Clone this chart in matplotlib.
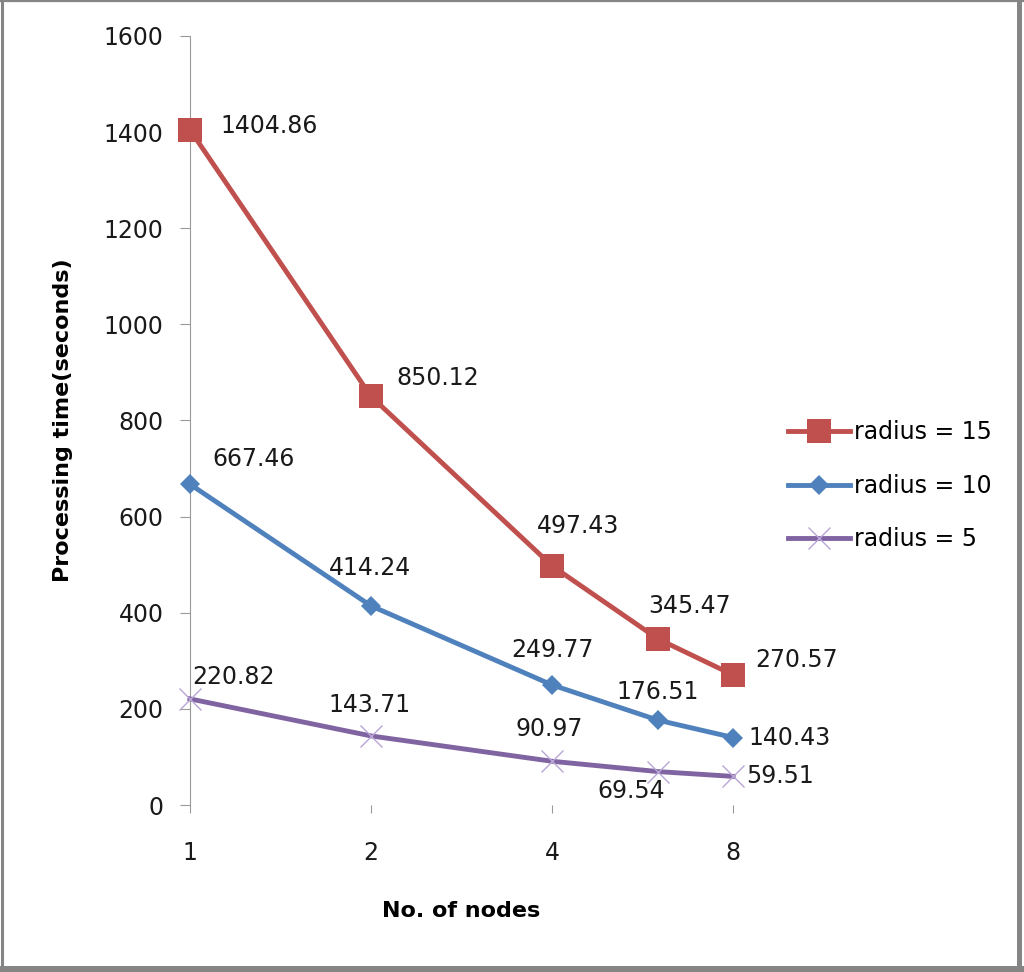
import numpy as np
import matplotlib
matplotlib.use("Agg")
import matplotlib.pyplot as plt
from matplotlib.lines import Line2D

# data
nodes = [1, 2, 4, 6, 8]
r15 = [1404.86, 850.12, 497.43, 345.47, 270.57]
r10 = [667.46, 414.24, 249.77, 176.51, 140.43]
r5 = [220.82, 143.71, 90.97, 69.54, 59.51]
xtick_vals = [1, 2, 4, 8]
yticks = [0, 200, 400, 600, 800, 1000, 1200, 1400, 1600]

# label offsets (points) per series
off15 = [(22, 3, 'left'), (18, 13, 'left'), (19, 29, 'center'), (23, 24, 'center'), (16, 11, 'left')]
off10 = [(16, 18, 'left'), (-1, 27, 'center'), (0, 25, 'center'), (0, 20, 'center'), (11, 0, 'left')]
off5 = [(2, 16, 'left'), (-1, 22, 'center'), (-2, 23, 'center'), (-19, -14, 'center'), (9, 0, 'left')]

plt.rcParams['font.family'] = ['DejaVu Sans']

fig = plt.figure(figsize=(10.24, 9.72), dpi=100)
ax = fig.add_axes([0.1855, 0.1718, 0.716 - 0.1855, 0.963 - 0.1718])

series = [
    (r15, 'radius = 15', '#C0504D', dict(marker='s', markersize=17, markeredgewidth=0), off15),
    (r10, 'radius = 10', '#4F81BD', dict(marker='D', markersize=10, markeredgewidth=0), off10),
    (r5, 'radius = 5', '#8064A2', dict(marker='x', markersize=16, markeredgewidth=1,
                                        markeredgecolor='#B9A6D6'), off5),
]

for vals, name, col, mk, offs in series:
    ax.plot(nodes, vals, color=col, lw=3.5, label=name, clip_on=False, zorder=3, **mk)
    for x, v, (dx, dy, ha) in zip(nodes, vals, offs):
        ax.annotate(f"{v:.2f}", (x, v), xytext=(dx, dy), textcoords='offset points',
                    ha=ha, va='center', fontsize=17, color='#1a1a1a', zorder=4)

ax.set_xscale('log', base=2)
ax.set_xlim(1, 8)
ax.set_ylim(0, 1600)
ax.set_xticks(xtick_vals)
ax.set_xticklabels([str(v) for v in xtick_vals])
ax.minorticks_off()
ax.set_yticks(yticks)

for s in ['top', 'right', 'bottom']:
    ax.spines[s].set_visible(False)
ax.spines['left'].set_color('#999999')
ax.tick_params(axis='y', colors='#999999', labelcolor='#1a1a1a', labelsize=17, length=7, pad=12)
ax.tick_params(axis='x', colors='#999999', labelcolor='#1a1a1a', labelsize=17, length=6, pad=20)

ax.set_ylabel('Processing time(seconds)', fontsize=16, fontweight='bold', labelpad=22)
ax.set_xlabel('No. of nodes', fontsize=16, fontweight='bold', labelpad=26)

ax.legend(loc='center left', bbox_to_anchor=(1.062, 0.415), frameon=False, fontsize=17,
          handlelength=2.6, labelspacing=1.25, handletextpad=0.2)

# picture frame: thin on top/left, heavier on bottom/right
W, H = 1024.0, 972.0
frame = [
    ([0, 1], [1 - 1.5 / H] * 2, 1.6),
    ([1.5 / W] * 2, [0, 1], 2.2),
    ([0, 1], [3 / H] * 2, 4.3),
    ([1 - 5 / W] * 2, [0, 1], 3.6),
]
for xs, ys, w in frame:
    fig.add_artist(Line2D(xs, ys, transform=fig.transFigure, color='#858585', lw=w))

fig.savefig('out.png', dpi=100)
